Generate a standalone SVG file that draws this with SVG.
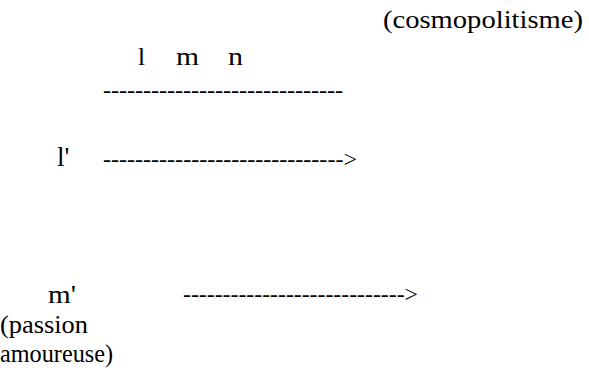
<svg xmlns="http://www.w3.org/2000/svg" width="589" height="374" viewBox="0 0 589 374">
<style>
.t{font-family:"Liberation Serif","Times New Roman",serif;font-size:25px;fill:#000}
.d{font-family:"Liberation Serif","Times New Roman",serif;font-size:24px;fill:#000}
</style>
<rect width="589" height="374" fill="#fff"/>
<g id="cosmopolitisme"><text class="t" x="383" y="28" textLength="200" lengthAdjust="spacingAndGlyphs">(cosmopolitisme)</text></g>
<g id="lmn">
<text class="t" x="138" y="65" textLength="7" lengthAdjust="spacingAndGlyphs">l</text>
<text class="t" x="176" y="65" textLength="23" lengthAdjust="spacingAndGlyphs">m</text>
<text class="t" x="228" y="65" textLength="15" lengthAdjust="spacingAndGlyphs">n</text>
</g>
<g id="lprime"><text class="d" x="57" y="166" style="font-size:27px">l'</text></g>
<g id="mprime"><text class="t" x="48" y="303" textLength="28" lengthAdjust="spacingAndGlyphs">m'</text></g>
<g id="passion">
<text class="t" x="0" y="333" textLength="88" lengthAdjust="spacingAndGlyphs">(passion</text>
<text class="t" x="0" y="362" textLength="113" lengthAdjust="spacingAndGlyphs">amoureuse)</text>
</g>
<g id="connectors">
<text class="d" x="103" y="98" textLength="240" lengthAdjust="spacingAndGlyphs">------------------------------</text>
<text class="d" x="103" y="167" textLength="254" lengthAdjust="spacingAndGlyphs">------------------------------&gt;</text>
<text class="d" x="183" y="302" textLength="235" lengthAdjust="spacingAndGlyphs">----------------------------&gt;</text>
</g>
</svg>
